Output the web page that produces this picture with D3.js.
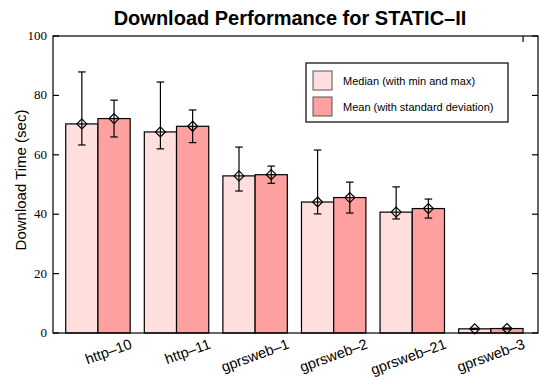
<!DOCTYPE html>
<html>
<head>
<meta charset="utf-8">
<script src="https://cdn.jsdelivr.net/npm/d3@7/dist/d3.min.js"></script>
<style>
  html, body { margin: 0; padding: 0; background: #fff; }
  svg { display: block; }
</style>
</head>
<body>
<svg id="chart" width="542" height="377"></svg>
<script>
// Download times (seconds) per configuration
const categories = ["http–10", "http–11", "gprsweb–1", "gprsweb–2", "gprsweb–21", "gprsweb–3"];
const medianVals = [70.4, 67.7, 52.9, 44.1, 40.7, 1.4];
const minVals    = [63.3, 62.0, 47.8, 40.1, 38.4, 1.2];
const maxVals    = [87.9, 84.5, 62.6, 61.6, 49.2, 1.6];
const meanVals   = [72.2, 69.6, 53.3, 45.6, 41.9, 1.5];
const sdVals     = [6.2, 5.5, 2.9, 5.2, 3.2, 0.2];
const yTicks     = [0, 20, 40, 60, 80, 100];
const seriesNames = ["Median (with min and max)", "Mean (with standard deviation)"];
const seriesColors = ["#ffdede", "#ffa0a0"];

const svg = d3.select("#chart");
const plot = { left: 53, right: 538, top: 36, bottom: 333 };

const x = d3.scaleLinear().domain([-0.572, 5.6]).range([plot.left, plot.right]);
const y = d3.scaleLinear().domain([0, 100]).range([plot.bottom, plot.top]);
const barW = 0.41; // bar width in category units

// Title
svg.append("text")
  .attr("x", 290).attr("y", 25)
  .attr("text-anchor", "middle")
  .attr("font-family", "Liberation Sans, Arial, sans-serif")
  .attr("font-weight", "bold")
  .attr("font-size", 20)
  .text("Download Performance for STATIC–II");

// Y axis title
svg.append("text")
  .attr("transform", "translate(26,180) rotate(-90)")
  .attr("text-anchor", "middle")
  .attr("font-family", "Liberation Sans, Arial, sans-serif")
  .attr("font-size", 15)
  .text("Download Time (sec)");

// Bars
const rows = categories.map((c, i) => ({
  i, c,
  median: medianVals[i], min: minVals[i], max: maxVals[i],
  mean: meanVals[i], sd: sdVals[i]
}));

const g = svg.append("g");

g.selectAll("rect.med").data(rows).join("rect")
  .attr("class", "med")
  .attr("x", d => x(d.i - barW))
  .attr("width", d => x(d.i) - x(d.i - barW))
  .attr("y", d => y(d.median))
  .attr("height", d => y(0) - y(d.median))
  .attr("fill", seriesColors[0])
  .attr("stroke", "#000").attr("stroke-width", 1.2);

g.selectAll("rect.mean").data(rows).join("rect")
  .attr("class", "mean")
  .attr("x", d => x(d.i))
  .attr("width", d => x(d.i + barW) - x(d.i))
  .attr("y", d => y(d.mean))
  .attr("height", d => y(0) - y(d.mean))
  .attr("fill", seriesColors[1])
  .attr("stroke", "#000").attr("stroke-width", 1.2);

// Error bars with caps and open diamond markers
function errorBar(cx, lo, hi, val) {
  const cap = 3.8;
  const e = g.append("g").attr("stroke", "#000").attr("stroke-width", 1.2).attr("fill", "none");
  e.append("line").attr("x1", cx).attr("x2", cx).attr("y1", y(lo)).attr("y2", y(hi));
  e.append("line").attr("x1", cx - cap).attr("x2", cx + cap).attr("y1", y(lo)).attr("y2", y(lo));
  e.append("line").attr("x1", cx - cap).attr("x2", cx + cap).attr("y1", y(hi)).attr("y2", y(hi));
  const cy = y(val), r = 5;
  e.append("path").attr("d", `M${cx},${cy - r}L${cx + r},${cy}L${cx},${cy + r}L${cx - r},${cy}Z`);
}
rows.forEach(d => {
  errorBar(x(d.i - barW / 2), d.min, d.max, d.median);
  errorBar(x(d.i + barW / 2), d.mean - d.sd, d.mean + d.sd, d.mean);
});

// Frame and ticks
const axisG = svg.append("g").attr("stroke", "#000").attr("stroke-width", 1.2);
axisG.append("rect")
  .attr("x", plot.left).attr("y", plot.top)
  .attr("width", plot.right - plot.left).attr("height", plot.bottom - plot.top)
  .attr("fill", "none");
yTicks.forEach(t => {
  axisG.append("line").attr("x1", plot.left).attr("x2", plot.left + 6).attr("y1", y(t)).attr("y2", y(t));
  axisG.append("line").attr("x1", plot.right).attr("x2", plot.right - 6).attr("y1", y(t)).attr("y2", y(t));
});
// mirrored category tick on the top border
axisG.append("line")
  .attr("x1", x(categories.length - 1 + barW)).attr("x2", x(categories.length - 1 + barW))
  .attr("y1", plot.top).attr("y2", plot.top + 6);

// Y tick labels
svg.append("g").selectAll("text").data(yTicks).join("text")
  .attr("x", 47).attr("y", d => y(d) + 4)
  .attr("text-anchor", "end")
  .attr("font-family", "Liberation Serif, Times New Roman, serif")
  .attr("font-size", 13)
  .text(d => d);

// Category labels, rotated
svg.append("g").selectAll("text").data(rows).join("text")
  .attr("transform", d => `translate(${x(d.i) + 35},${plot.bottom + 15}) rotate(-20)`)
  .attr("text-anchor", "end")
  .attr("font-family", "Liberation Sans, Arial, sans-serif")
  .attr("font-size", 14.5)
  .text(d => d.c);

// Legend
const lg = svg.append("g");
lg.append("rect")
  .attr("x", 306).attr("y", 63).attr("width", 202).attr("height", 59)
  .attr("fill", "#fff").attr("stroke", "#000").attr("stroke-width", 1.2);
seriesNames.forEach((name, k) => {
  const yy = 71 + k * 26;
  lg.append("rect")
    .attr("x", 313).attr("y", yy).attr("width", 19).attr("height", 19)
    .attr("fill", seriesColors[k]).attr("stroke", "#555").attr("stroke-width", 1);
  lg.append("text")
    .attr("x", 343).attr("y", yy + 14)
    .attr("font-family", "Liberation Sans, Arial, sans-serif")
    .attr("font-size", 11)
    .text(name);
});
</script>
</body>
</html>
